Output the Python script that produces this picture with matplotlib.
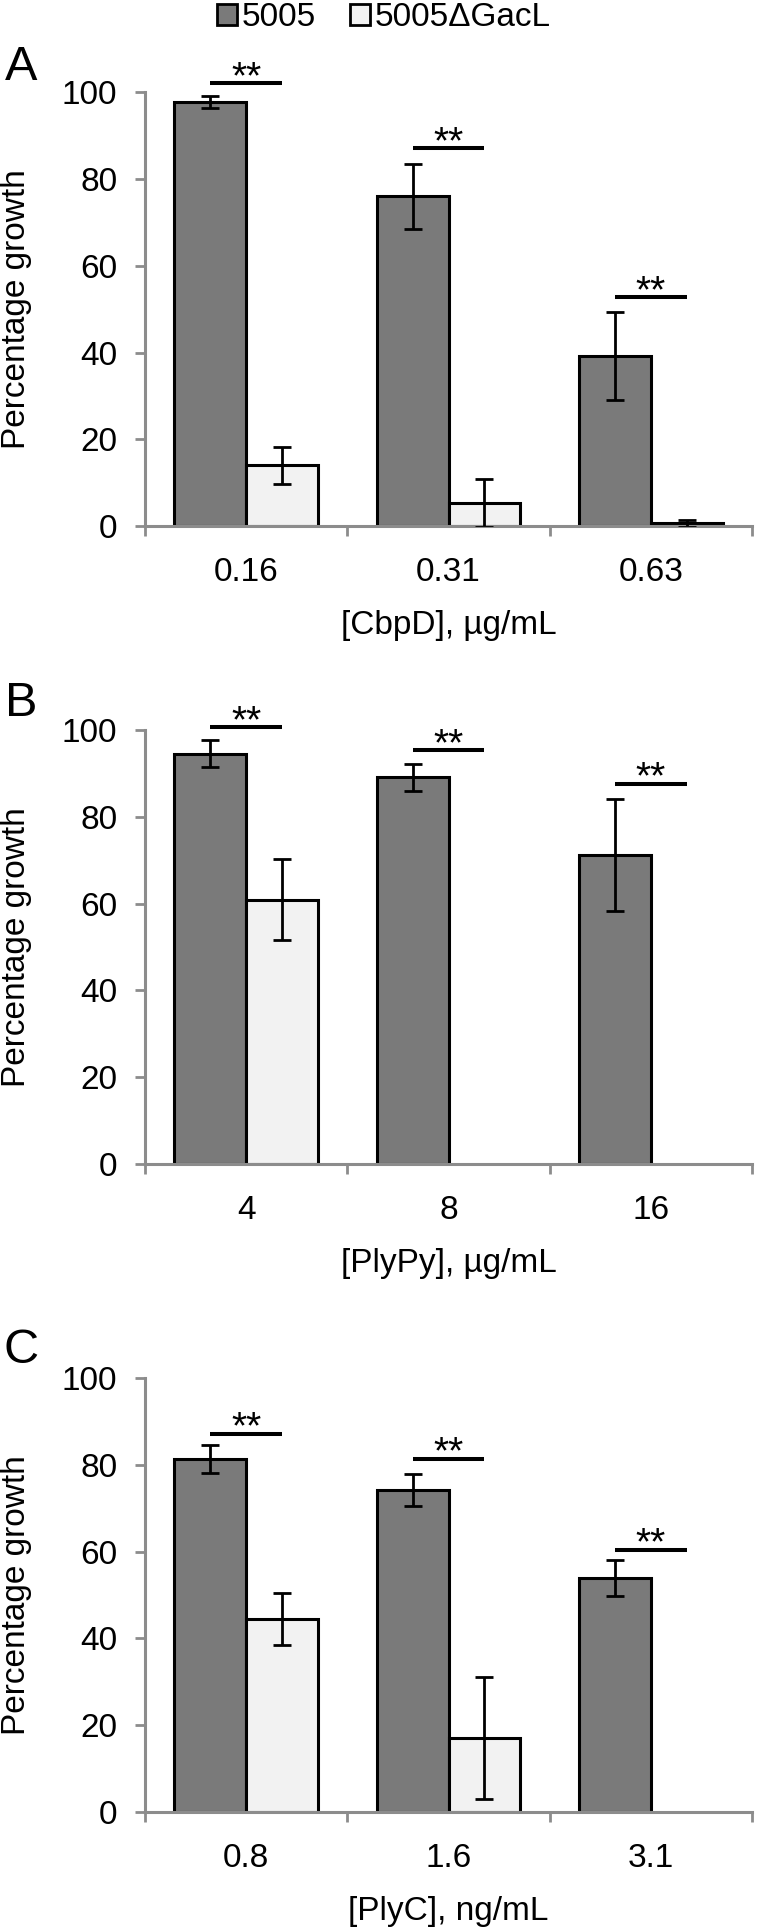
import matplotlib
matplotlib.use('Agg')
import matplotlib.pyplot as plt
from matplotlib.patches import Patch
import numpy as np

plt.rcParams['font.family'] = ['Liberation Sans', 'DejaVu Sans']

# panel A: CbpD
cats_a = ['0.16', '0.31', '0.63']
wt_a = [97.7, 76.0, 39.2]
wt_err_a = [1.3, 7.5, 10.1]
mut_a = [14.0, 5.4, 0.6]
mut_err_a = [4.2, 5.5, 0.9]
sig_a = [102.0, 87.1, 52.8]

# panel B: PlyPy
cats_b = ['4', '8', '16']
wt_b = [94.6, 89.1, 71.2]
wt_err_b = [3.2, 3.2, 13.0]
mut_b = [60.9, 0.0, 0.0]
mut_err_b = [9.3, 0.0, 0.0]
sig_b = [100.7, 95.3, 87.6]

# panel C: PlyC
cats_c = ['0.8', '1.6', '3.1']
wt_c = [81.3, 74.2, 53.9]
wt_err_c = [3.2, 3.7, 4.1]
mut_c = [44.5, 17.1, 0.0]
mut_err_c = [5.9, 14.1, 0.0]
sig_c = [87.2, 81.4, 60.4]

letters = ['A', 'B', 'C']
xlabels = ['[CbpD], µg/mL', '[PlyPy], µg/mL', '[PlyC], ng/mL']
series_names = ['5005', '5005ΔGacL']

dark = '#7a7a7a'
light = '#f2f2f2'
grey = '#8c8c8c'

fig = plt.figure(figsize=(7.6, 19.32), dpi=100)
bottoms = [0.7277, 0.3975, 0.0621]
letter_y = [0.9653, 0.6361, 0.3012]

panels = [
    (cats_a, wt_a, wt_err_a, mut_a, mut_err_a, sig_a),
    (cats_b, wt_b, wt_err_b, mut_b, mut_err_b, sig_b),
    (cats_c, wt_c, wt_err_c, mut_c, mut_err_c, sig_c),
]

w = 0.355
for i, (cats, wt, wt_err, mut, mut_err, sig) in enumerate(panels):
    ax = fig.add_axes([0.1908, bottoms[i], 0.7987, 0.2246])
    x = np.arange(len(cats))
    wt = np.array(wt)
    mut = np.array(mut)
    ax.bar(x - w / 2, wt, w, color=dark, edgecolor='black', linewidth=2.2, zorder=2)
    m = mut > 0
    ax.bar(x[m] + w / 2, mut[m], w, color=light, edgecolor='black', linewidth=2.2, zorder=2)
    ax.errorbar(x - w / 2, wt, yerr=wt_err, fmt='none', ecolor='black',
                elinewidth=2.0, capsize=6.5, capthick=2.0, zorder=3)
    ax.errorbar(x[m] + w / 2, mut[m], yerr=np.array(mut_err)[m], fmt='none', ecolor='black',
                elinewidth=2.0, capsize=6.5, capthick=2.0, zorder=3)

    # significance bars
    for xi, s in zip(x, sig):
        ax.plot([xi - w / 2, xi + w / 2], [s, s], color='black', lw=2.9,
                solid_capstyle='butt', clip_on=False, zorder=4)
        ax.annotate('**', (xi, s), xytext=(0, -3.5), textcoords='offset points',
                    ha='center', va='baseline', fontsize=28, annotation_clip=False)

    ax.set_xlim(-0.5, 2.5)
    ax.set_ylim(0, 100)
    ax.set_yticks(range(0, 101, 20))
    ax.set_xticks(x)
    ax.set_xticklabels(cats)
    ax.set_xticks([-0.5, 0.5, 1.5, 2.5], minor=True)
    ax.tick_params(axis='x', which='major', length=0, pad=22, labelsize=24)
    ax.tick_params(axis='x', which='minor', length=7, width=2, color=grey, direction='out')
    ax.tick_params(axis='y', length=7, width=2, color=grey, direction='out', pad=13, labelsize=24)
    for side in ['top', 'right']:
        ax.spines[side].set_visible(False)
    for side in ['left', 'bottom']:
        ax.spines[side].set_color(grey)
        ax.spines[side].set_linewidth(2.2)

    ax.set_ylabel('Percentage growth', fontsize=24)
    ax.yaxis.set_label_coords(-0.186, 0.5)
    ax.text(0.5, -0.23, xlabels[i], transform=ax.transAxes, ha='center', va='center', fontsize=24)

    fig.text(0.028, letter_y[i], letters[i], ha='center', va='center', fontsize=35)

handles = [Patch(facecolor=dark, edgecolor='black', linewidth=2, label=series_names[0]),
           Patch(facecolor=light, edgecolor='black', linewidth=2, label=series_names[1])]
fig.legend(handles=handles, loc='center', bbox_to_anchor=(0.505, 0.991), ncol=2, frameon=False,
           fontsize=24, handlelength=0.6, handleheight=0.6, handletextpad=0.15,
           columnspacing=1.0, borderpad=0)

fig.savefig('out.png', dpi=100)
